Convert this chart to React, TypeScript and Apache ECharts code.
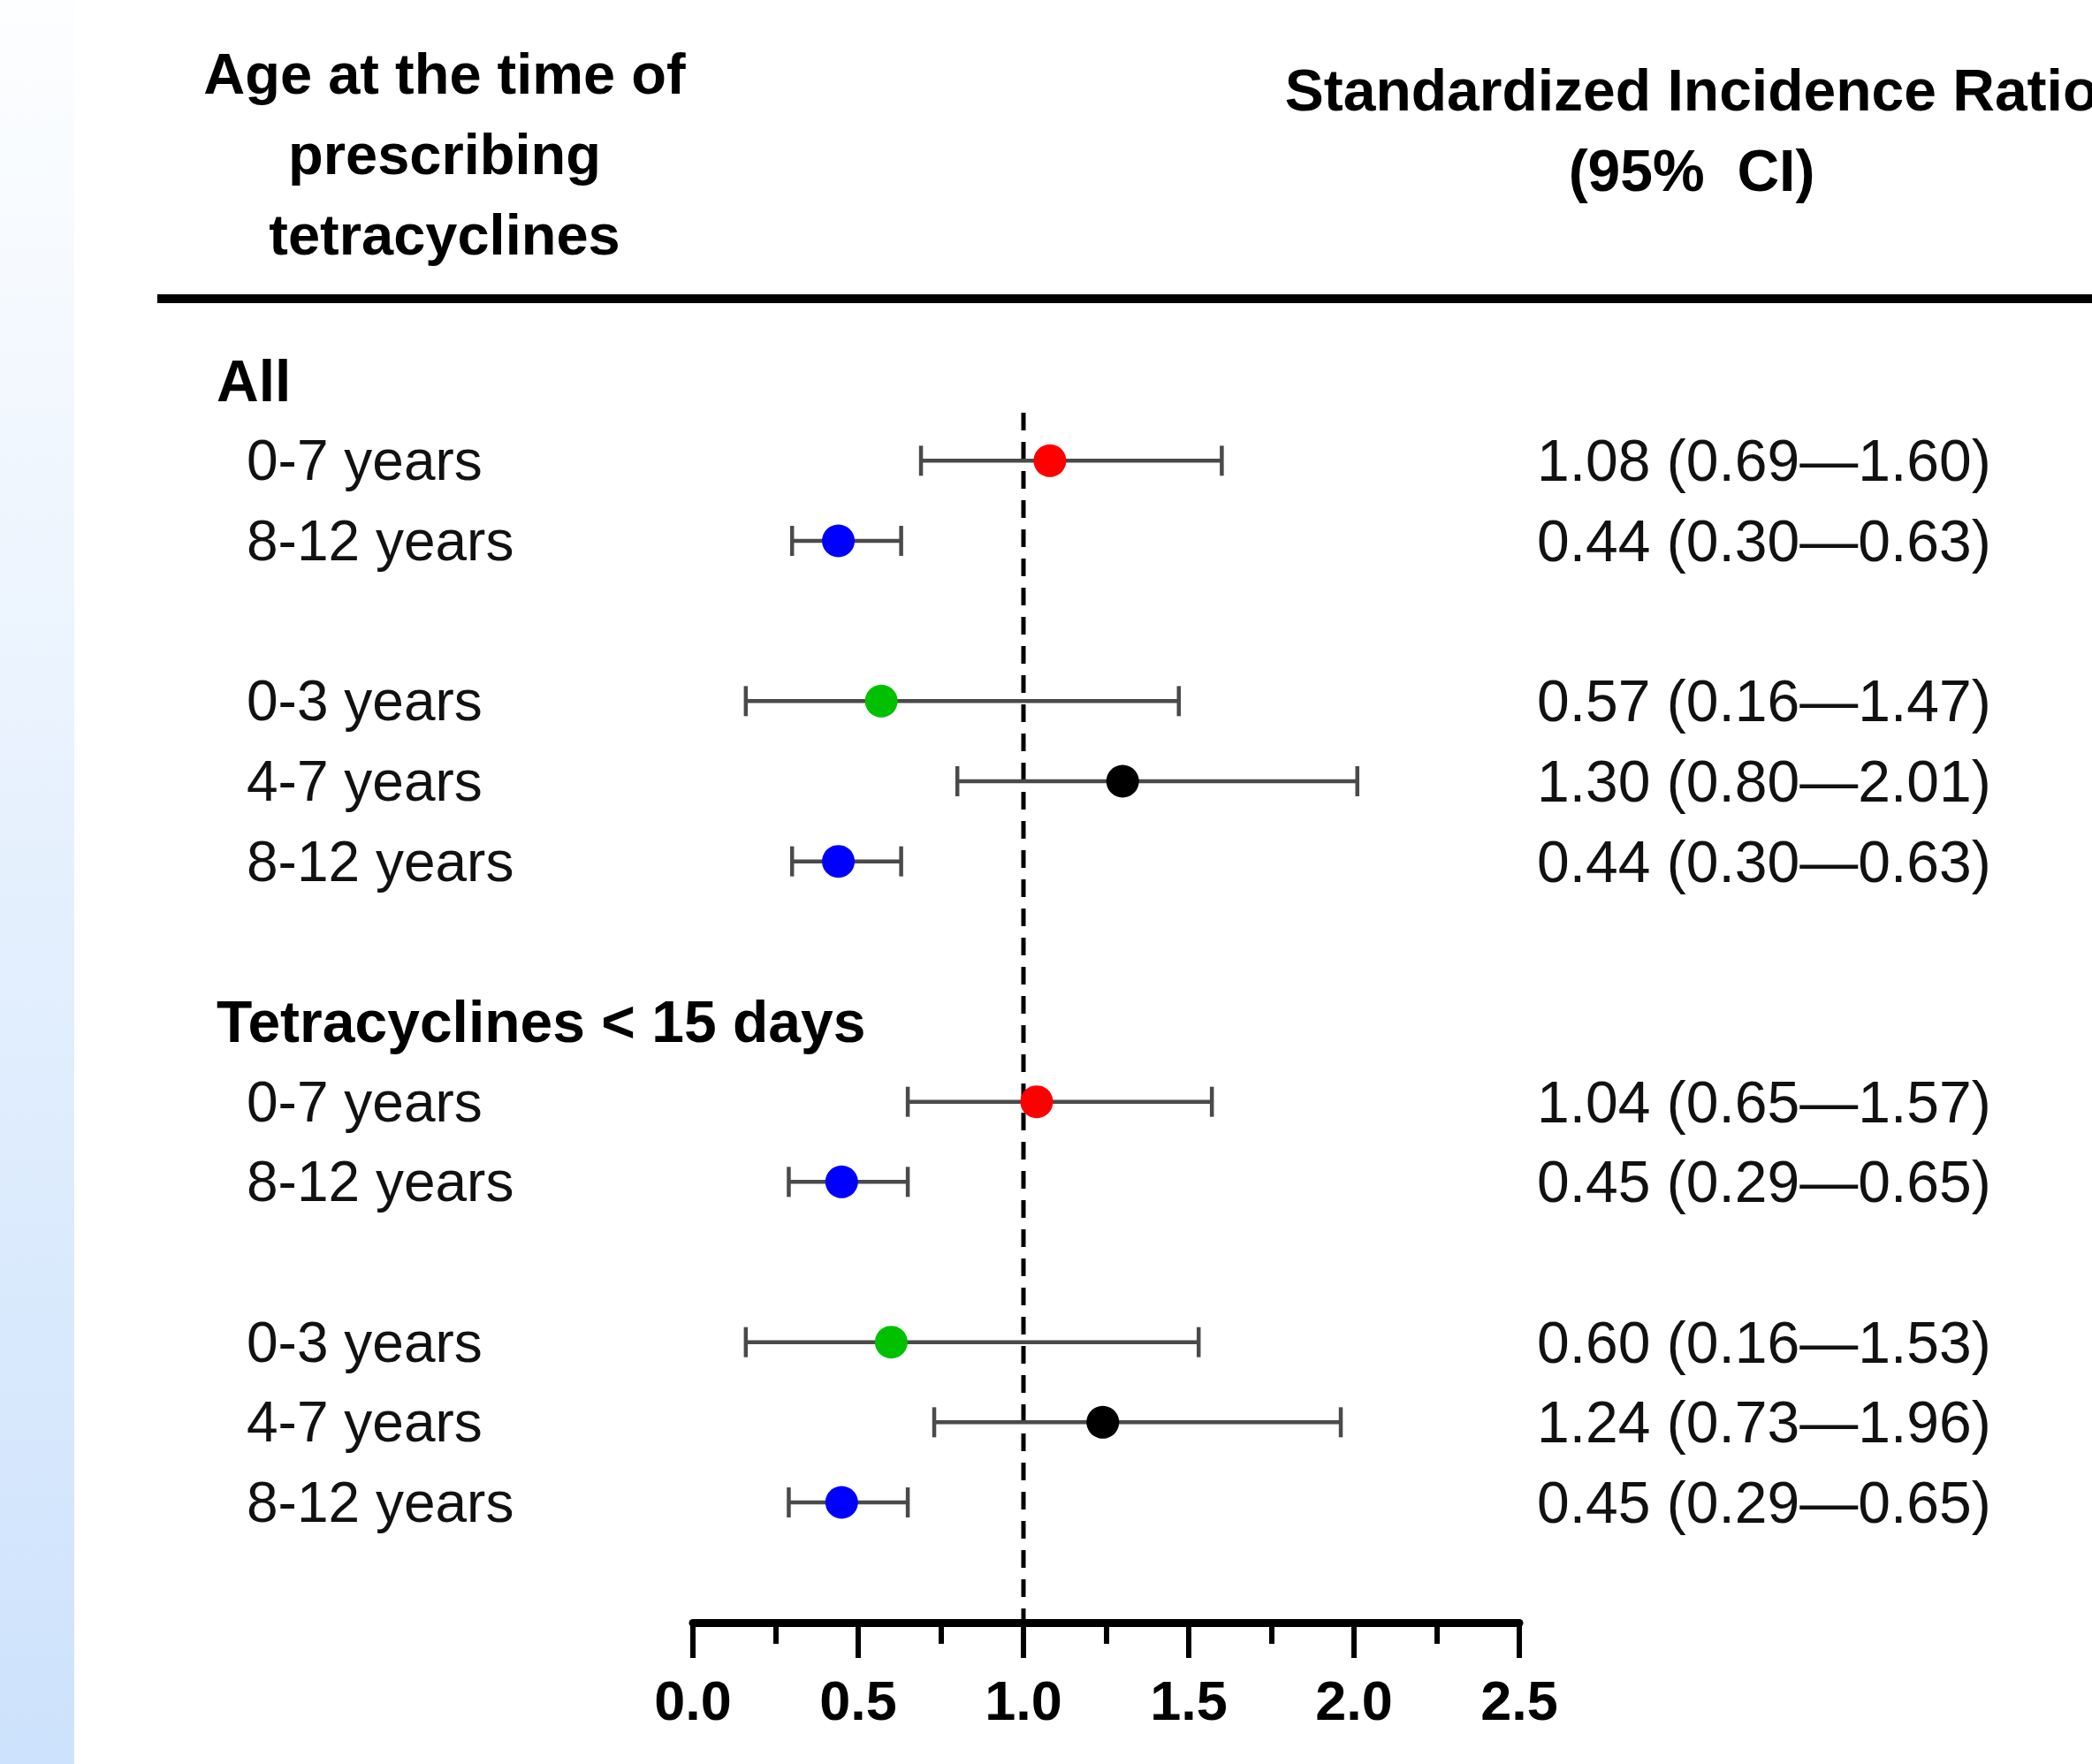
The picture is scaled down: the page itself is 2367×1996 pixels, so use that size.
import React, { useEffect, useRef } from "react";
import * as echarts from "echarts";

// ---- data ----
const rowLabels = [
  "All",
  "0-7 years",
  "8-12 years",
  "",
  "0-3 years",
  "4-7 years",
  "8-12 years",
  "",
  "Tetracyclines < 15 days",
  "0-7 years",
  "8-12 years",
  "",
  "0-3 years",
  "4-7 years",
  "8-12 years",
];
const headerRows = [0, 8];
const pointRows = [1, 2, 4, 5, 6, 9, 10, 12, 13, 14];
const sir = [1.08, 0.44, 0.57, 1.3, 0.44, 1.04, 0.45, 0.6, 1.24, 0.45];
const ciLow = [0.69, 0.3, 0.16, 0.8, 0.3, 0.65, 0.29, 0.16, 0.73, 0.29];
const ciHigh = [1.6, 0.63, 1.47, 2.01, 0.63, 1.57, 0.65, 1.53, 1.96, 0.65];
const pointColors = [
  "#ff0000",
  "#0000ff",
  "#00c000",
  "#000000",
  "#0000ff",
  "#ff0000",
  "#0000ff",
  "#00c000",
  "#000000",
  "#0000ff",
];
const xTicks = [0, 0.5, 1.0, 1.5, 2.0, 2.5];
const referenceValue = 1.0;
const leftHeader = "Age at the time of\nprescribing\ntetracyclines";
const rightHeader = "Standardized Incidence Ratio\n(95%  CI)";

const FONT = "'Liberation Sans', Arial, Helvetica, sans-serif";

export default function App() {
  const ref = useRef<HTMLDivElement>(null);

  useEffect(() => {
    document.body.style.margin = "0";
    const chart = echarts.init(ref.current!, null, { renderer: "svg" });

    const ciText: Record<number, string> = {};
    pointRows.forEach((r, i) => {
      ciText[r] = `${sir[i].toFixed(2)} (${ciLow[i].toFixed(2)}\u2014${ciHigh[i].toFixed(2)})`;
    });

    const isInt = (v: number) => Math.abs(v - Math.round(v)) < 1e-6;

    const option: any = {
      animation: false,
      backgroundColor: "#ffffff",
      grid: { left: 784, right: 648, top: 340, bottom: 160 },
      xAxis: {
        type: "value",
        position: "bottom",
        min: xTicks[0],
        max: xTicks[xTicks.length - 1],
        interval: 0.5,
        axisLine: { show: true, onZero: false, lineStyle: { color: "#000", width: 9 } },
        axisTick: { show: true, length: 40, lineStyle: { color: "#000", width: 6 } },
        minorTick: { show: true, splitNumber: 2, length: 24, lineStyle: { color: "#000", width: 6 } },
        splitLine: { show: false },
        minorSplitLine: { show: false },
        axisLabel: {
          margin: 56,
          fontFamily: FONT,
          fontWeight: "bold",
          fontSize: 63,
          color: "#000",
          formatter: (v: number) => v.toFixed(1),
        },
      },
      yAxis: [
        {
          type: "value",
          inverse: true,
          min: -1,
          max: 15.5,
          interval: 1,
          position: "left",
          axisLine: { show: false },
          axisTick: { show: false },
          splitLine: { show: false },
          axisLabel: {
            align: "left",
            margin: 539,
            formatter: (v: number) => {
              if (!isInt(v)) return "";
              const i = Math.round(v);
              const t = rowLabels[i];
              if (!t) return "";
              return headerRows.includes(i) ? `{h|${t}}` : `{n|${t}}`;
            },
            rich: {
              h: { fontFamily: FONT, fontWeight: "bold", fontSize: 66, color: "#000" },
              n: { fontFamily: FONT, fontSize: 64, color: "#111", padding: [0, 0, 0, 34] },
            },
          },
        },
        {
          type: "value",
          inverse: true,
          min: -1,
          max: 15.5,
          interval: 1,
          position: "right",
          axisLine: { show: false },
          axisTick: { show: false },
          splitLine: { show: false },
          axisLabel: {
            align: "left",
            margin: 20,
            fontFamily: FONT,
            fontSize: 66,
            color: "#111",
            formatter: (v: number) => {
              if (!isInt(v)) return "";
              return ciText[Math.round(v)] || "";
            },
          },
        },
      ],
      graphic: [
        {
          type: "rect",
          shape: { x: 0, y: 0, width: 84, height: 1996 },
          style: {
            fill: new echarts.graphic.LinearGradient(0, 0, 0, 1, [
              { offset: 0, color: "#fdfeff" },
              { offset: 1, color: "#cde2fc" },
            ]),
          },
          silent: true,
        },
        {
          type: "line",
          shape: { x1: 178, y1: 338, x2: 2367, y2: 338 },
          style: { stroke: "#000", lineWidth: 10 },
          silent: true,
        },
        {
          type: "text",
          x: 503,
          y: 174,
          style: {
            text: leftHeader,
            fontFamily: FONT,
            fontWeight: "bold",
            fontSize: 65,
            lineHeight: 91,
            fill: "#000",
            align: "center",
            verticalAlign: "middle",
          },
          silent: true,
        },
        {
          type: "text",
          x: 1914,
          y: 147,
          style: {
            text: rightHeader,
            fontFamily: FONT,
            fontWeight: "bold",
            fontSize: 66,
            lineHeight: 91,
            fill: "#000",
            align: "center",
            verticalAlign: "middle",
          },
          silent: true,
        },
      ],
      series: [
        {
          type: "line",
          data: [
            [referenceValue, 0.4],
            [referenceValue, 15.5],
          ],
          symbol: "none",
          lineStyle: { color: "#000", width: 5, type: [20, 13] },
          z: 2,
          silent: true,
        },
        {
          type: "custom",
          data: pointRows.map((r, i) => [ciLow[i], ciHigh[i], r]),
          encode: { x: [0, 1], y: 2 },
          z: 3,
          silent: true,
          renderItem: (params: any, api: any) => {
            const lo = api.coord([api.value(0), api.value(2)]);
            const hi = api.coord([api.value(1), api.value(2)]);
            const h = 17;
            const style = { stroke: "#4a4a4a", lineWidth: 4.5 };
            return {
              type: "group",
              children: [
                { type: "line", shape: { x1: lo[0], y1: lo[1], x2: hi[0], y2: hi[1] }, style },
                { type: "line", shape: { x1: lo[0], y1: lo[1] - h, x2: lo[0], y2: lo[1] + h }, style },
                { type: "line", shape: { x1: hi[0], y1: hi[1] - h, x2: hi[0], y2: hi[1] + h }, style },
              ],
            };
          },
        },
        {
          type: "scatter",
          data: pointRows.map((r, i) => ({
            value: [sir[i], r],
            itemStyle: { color: pointColors[i], opacity: 1 },
          })),
          symbol: "circle",
          symbolSize: 37,
          itemStyle: { opacity: 1 },
          z: 5,
          silent: true,
        },
      ],
    };

    chart.setOption(option);
    return () => chart.dispose();
  }, []);

  return (
    <div
      ref={ref}
      style={{ position: "absolute", left: 0, top: 0, width: 2367, height: 1996 }}
    />
  );
}
